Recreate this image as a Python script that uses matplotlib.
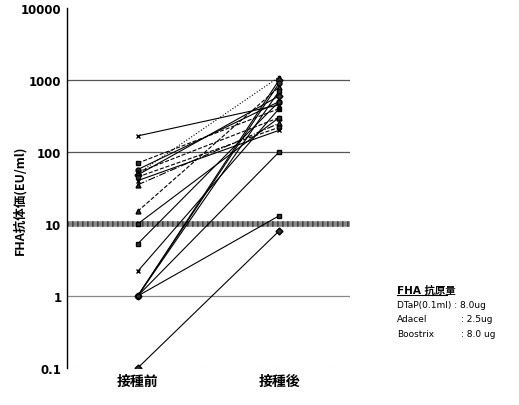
import numpy as np
import matplotlib
matplotlib.use("Agg")
import matplotlib.pyplot as plt

plt.rcParams['font.family'] = ['Noto Sans CJK JP', 'DejaVu Sans']

# FHA antibody titre, before / after vaccination (one pair per subject)
pre = [167, 70, 57, 52, 48, 45, 40, 35, 50, 15, 10, 5.3, 2.2, 1, 1, 1, 1, 1, 0.1]
post = [450, 400, 500, 300, 600, 220, 200, 250, 1100, 800, 300, 500, 400, 1000, 900, 700, 100, 13, 8]
markers = ['x', 's', 'o', '^', 'D', 's', 'x', '^', '.', '^', 's', 's', 'x', 'D', 'o', 's', 's', 's', 'D']
styles = ['-', '--', '-', '--', '-', '--', '-', '-.', ':', '--', '-', '-', '-', '-', '-', '-', '-', '-', '-']

categories = ['接種前', '接種後']
yticks = [0.1, 1, 10, 100, 1000, 10000]
ytick_labels = ['0.1', '1', '10', '100', '1000', '10000']

fig = plt.figure(figsize=(5.19, 4.06), dpi=100)
ax = fig.add_axes([0.129, 0.091, 0.545, 0.887])

ax.set_yscale('log')
ax.set_ylim(0.1, 10000)
ax.set_xlim(-0.5, 1.5)

for g in [100, 1000]:
    ax.axhline(g, color='#555555', lw=0.9, zorder=1)
ax.axhline(1, color='#888888', lw=0.9, zorder=1)
ax.axhline(10, color='#888888', lw=4, zorder=1)
ax.axhline(10, color='#444444', lw=4, ls=(0, (0.3, 0.6)), zorder=1)
ax.axhline(0.1, color='#999999', lw=0.8, ls=(0, (1, 4)), zorder=1)
ax.axvline(1.5, color='#999999', lw=0.8, ls=(0, (1, 8)), zorder=1)

for a, b, m, s in zip(pre, post, markers, styles):
    ax.plot([0, 1], [a, b], color='black', lw=0.8, ls=s, marker=m,
            ms=3.5, mfc='#333333', mec='black', zorder=3)

for sp in ['top', 'right', 'bottom']:
    ax.spines[sp].set_visible(False)
ax.spines['left'].set_linewidth(1.0)

ax.set_yticks(yticks)
ax.set_yticklabels(ytick_labels, fontsize=8.5, fontweight='bold', family=['DejaVu Sans'])
ax.minorticks_off()
ax.tick_params(axis='y', length=0, pad=4)
ax.set_xticks([0, 1])
ax.set_xticklabels(categories, fontsize=10, fontweight='bold')
ax.tick_params(axis='x', length=0, pad=4)

ax.set_ylabel('FHA抗体価(EU/ml)', fontsize=9, fontweight='bold')
ax.yaxis.set_label_coords(-0.145, 0.47)

lf = ['DejaVu Sans', 'Noto Sans CJK JP']
fig.text(0.765, 0.276, 'FHA 抗原量', fontsize=7.5, fontweight='bold', family=lf)
fig.add_artist(plt.Line2D([0.765, 0.862], [0.271, 0.271], color='black', lw=0.8))
fig.text(0.765, 0.241, 'DTaP(0.1ml) : 8.0ug', fontsize=6.5, family=lf)
fig.text(0.765, 0.206, 'Adacel', fontsize=6.5, family=lf)
fig.text(0.888, 0.206, ': 2.5ug', fontsize=6.5, family=lf)
fig.text(0.765, 0.171, 'Boostrix', fontsize=6.5, family=lf)
fig.text(0.888, 0.171, ': 8.0 ug', fontsize=6.5, family=lf)

fig.savefig('out.png', dpi=100, facecolor='white')
